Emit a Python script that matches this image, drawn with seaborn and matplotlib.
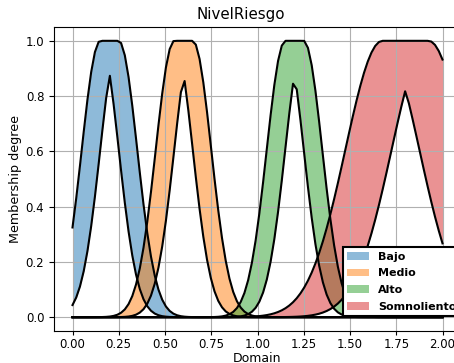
import numpy as np
import pandas as pd
import matplotlib
matplotlib.use("Agg")
import matplotlib.pyplot as plt
import seaborn as sns
from matplotlib.patches import Patch

# Interval type-2 Gaussian sets with uncertain mean: [center, mean spread, std]
set_names = ["Bajo", "Medio", "Alto", "Somnoliento"]
mean_centers = [0.2, 0.6, 1.2, 1.8]
mean_spreads = [0.1, 0.1, 0.1, 0.25]
std_devs = [0.1, 0.1, 0.1, 0.2]
domain_start, domain_end, domain_count = 0.0, 2.0, 100
x_ticks = [0.0, 0.25, 0.5, 0.75, 1.0, 1.25, 1.5, 1.75, 2.0]
y_ticks = [0.0, 0.2, 0.4, 0.6, 0.8, 1.0]
title_text = "NivelRiesgo"


def gauss(x, m, s):
    return np.exp(-((x - m) ** 2) / (2 * s ** 2))


def umf(x, c, w, s):
    m1, m2 = c - w / 2, c + w / 2
    return np.where(x < m1, gauss(x, m1, s), np.where(x > m2, gauss(x, m2, s), 1.0))


def lmf(x, c, w, s):
    m1, m2 = c - w / 2, c + w / 2
    return np.minimum(gauss(x, m1, s), gauss(x, m2, s))


domain = np.linspace(domain_start, domain_end, domain_count)

fig = plt.figure(figsize=(4.54, 3.63), dpi=100)
ax = fig.add_axes([54 / 454, 32 / 363, 407 / 454, 304 / 363])

frames = []
for i, name in enumerate(set_names):
    up = umf(domain, mean_centers[i], mean_spreads[i], std_devs[i])
    lo = lmf(domain, mean_centers[i], mean_spreads[i], std_devs[i])
    frames.append(pd.DataFrame({"x": domain, "upper": up, "lower": lo, "set": name}))
df = pd.concat(frames, ignore_index=True)

handles = []
for i, name in enumerate(set_names):
    d = df[df["set"] == name]
    ax.fill_between(d["x"], d["upper"], d["lower"], color=f"C{i}", alpha=0.5, linewidth=0)
    handles.append(Patch(facecolor=f"C{i}", alpha=0.5, label=name))

leg = ax.legend(handles=handles, loc="lower left", bbox_to_anchor=(0.709, 0.049),
                borderaxespad=0, prop={"weight": "bold", "size": 8},
                labelspacing=0.6, fancybox=False, framealpha=1, edgecolor="black")
leg.get_frame().set_linewidth(1.5)

for i, name in enumerate(set_names):
    d = df[df["set"] == name]
    sns.lineplot(data=d, x="x", y="lower", color="black", ax=ax, estimator=None,
                 sort=False, linewidth=1.5, legend=False)
    sns.lineplot(data=d, x="x", y="upper", color="black", ax=ax, estimator=None,
                 sort=False, linewidth=1.5, legend=False)

ax.set_xlim(-0.1, 2.1)
ax.set_ylim(-0.05, 1.05)
ax.set_xticks(x_ticks)
ax.set_yticks(y_ticks)
ax.tick_params(axis="both", labelsize=8.5)
ax.tick_params(axis="x", length=3, pad=2)
ax.set_title(title_text, fontsize=10.8, x=0.46)
ax.set_xlabel("Domain", fontsize=9, labelpad=1)
ax.set_ylabel("Membership degree", fontsize=9.2, labelpad=2.5)
ax.grid(True)

fig.savefig("out.png", dpi=100)
